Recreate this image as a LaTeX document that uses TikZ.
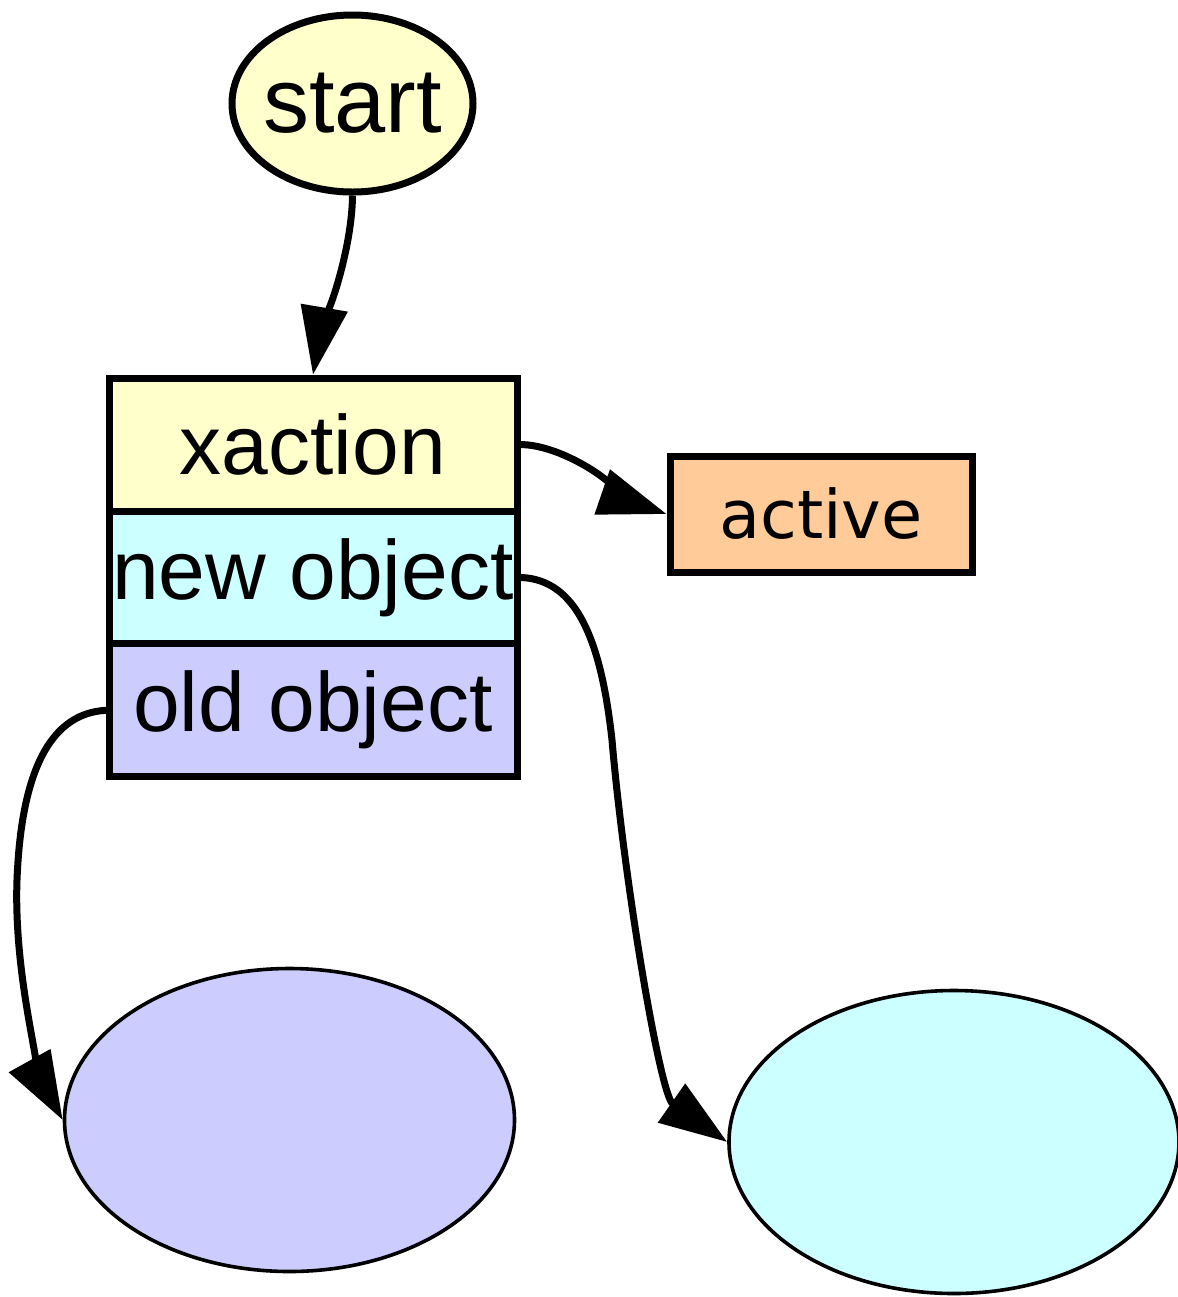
\documentclass[tikz,border=0pt]{standalone}
\usepackage{fontspec}
\setmainfont{Liberation Sans}
\newfontfamily\activefont{DejaVu Sans}
\usepackage{tikz}
\usetikzlibrary{positioning,arrows.meta,shapes.geometric}
\definecolor{pale}{HTML}{FFFFCC}
\definecolor{aqua}{HTML}{CCFFFF}
\definecolor{lilac}{HTML}{CCCCFF}
\definecolor{peach}{HTML}{FFCC99}

\begin{document}
\begin{tikzpicture}[x=0.5pt,y=0.5pt,>={Triangle[length=34pt,width=23pt]},
  edge/.style={->,line width=3.5pt},
  field/.style={draw,line width=3.5pt,minimum width=204pt,minimum height=66.4pt,
                inner sep=0pt,outer sep=0pt,font=\fontsize{42}{48}\selectfont},
  obj/.style={draw,ellipse,line width=1.8pt,minimum width=225pt,minimum height=151.5pt}]
  \useasboundingbox (0,0) rectangle (1178,-1297);

  % ---------- entry point and the record ----------
  \node[draw,ellipse,fill=pale,line width=3.5pt,minimum width=120.5pt,minimum height=88.5pt,
        inner xsep=-3pt,font=\fontsize{46}{52}\selectfont] (start) at (352.5,-103.5) {start};
  \node[field,fill=pale] (xaction) at (313,-444.6) {xaction};
  \node[field,fill=aqua,below=0pt of xaction] (newobj) {new object};
  \node[field,fill=lilac,below=0pt of newobj] (oldobj) {old object};
  \node[draw,fill=peach,line width=3.5pt,minimum width=151pt,minimum height=58pt,inner sep=0pt,
        font=\activefont\fontsize{33.5}{40}\selectfont] (active) at (821,-514) {active};

  % ---------- pointed-to objects ----------
  \node[obj,fill=lilac] (oldval) at (289.5,-1120) {};
  \node[obj,fill=aqua] (newval) at (954,-1142) {};

  % ---------- edges ----------
  \draw[edge] (start.south) .. controls (352,-258) and (318,-345) .. ([yshift=1.75pt]xaction.north);
  \draw[edge] (xaction.east) .. controls (570,-442) and (649,-508) .. (active.west);
  \draw[edge] (newobj.east) .. controls (572,-577) and (600,-630) .. (612,-740)
              .. controls (624,-880) and (660,-1095) .. (newval.west);
  \draw[edge] (oldobj.west) .. controls (62,-711) and (22,-750) .. (17,-880)
              .. controls (13,-990) and (51,-1099) .. (oldval.west);
\end{tikzpicture}
\end{document}
